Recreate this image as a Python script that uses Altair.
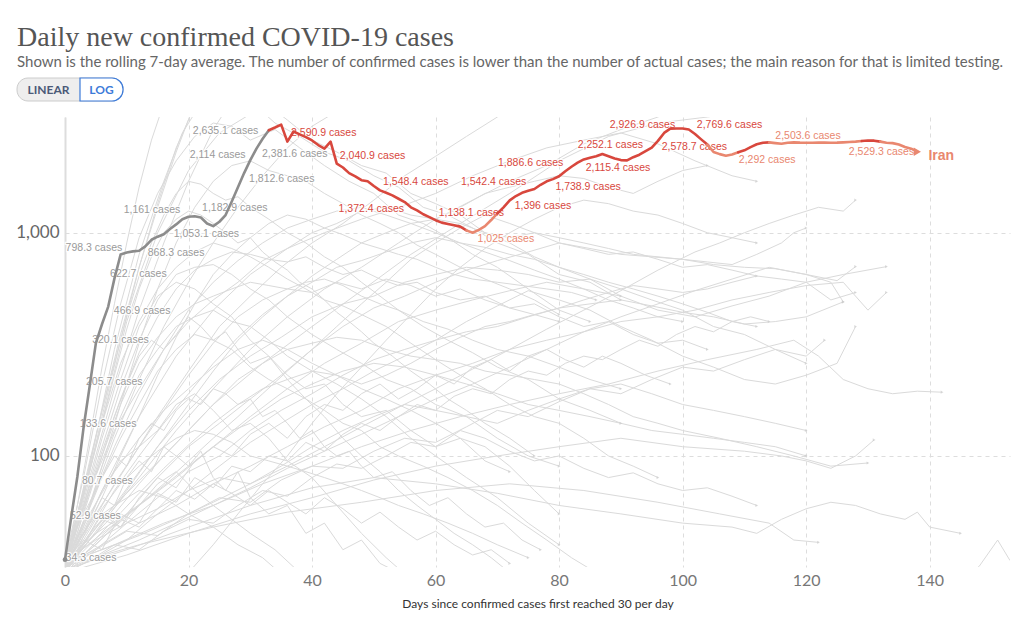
import altair as alt
import pandas as pd

# ---------------- Iran (highlighted) ----------------
iran_days = list(range(0, 139))
iran_vals = [
    34.3, 52.9, 80.7, 133.6, 205.7, 320.1, 390, 466.9, 622.7, 798.3,
    815, 825, 830, 868.3, 930, 960, 985, 1040, 1090, 1150,
    1180, 1185, 1170, 1100, 1070, 1120, 1200, 1380, 1600, 1850,
    2114, 2381.6, 2635.1, 2880, 2960, 3050, 2560, 2840, 2760, 2680,
    2590.9, 2470, 2380, 2560, 2040.9, 1960, 1850, 1790, 1720, 1700,
    1620, 1548.4, 1510, 1470, 1420, 1372.4, 1300, 1260, 1210, 1175,
    1138.1, 1110, 1095, 1080, 1065, 1025, 1000, 1030, 1070, 1140,
    1220, 1300, 1396, 1460, 1510, 1542.4, 1570, 1640, 1700, 1738.9,
    1790, 1886.6, 1976, 2060, 2130, 2169, 2200, 2252.1, 2200, 2150,
    2115.4, 2110, 2180, 2237, 2320, 2404, 2578.7, 2800, 2926.9, 2930,
    2930, 2900, 2769.6, 2620, 2483, 2300, 2250, 2214, 2240, 2292,
    2340, 2420, 2490, 2530, 2540, 2520, 2503.6, 2530, 2540, 2533,
    2530, 2530, 2533, 2533, 2530, 2533, 2540, 2550, 2560, 2575,
    2590, 2585, 2560, 2529.3, 2520, 2483, 2420, 2380, 2307,
]
seg_breaks = [0, 33, 65, 70, 104, 109, 114, 129, 132, 138]
seg_colors = ["#8c8c8c", "#d8473d", "#e9876f", "#d8473d", "#e9876f",
              "#d8473d", "#e9876f", "#d8473d", "#e9876f"]

# labels next to the Iran line (text, day, value, colour group)
lab_text = ["2,635.1 cases", "2,114 cases", "2,381.6 cases", "1,812.6 cases",
            "1,161 cases", "1,182.9 cases", "1,053.1 cases", "798.3 cases",
            "868.3 cases", "622.7 cases", "466.9 cases", "320.1 cases",
            "205.7 cases", "133.6 cases", "80.7 cases", "52.9 cases", "34.3 cases",
            "2,590.9 cases", "2,040.9 cases", "1,548.4 cases", "1,372.4 cases",
            "1,138.1 cases", "1,025 cases", "1,542.4 cases", "1,886.6 cases",
            "1,396 cases", "1,738.9 cases", "2,252.1 cases", "2,115.4 cases",
            "2,926.9 cases", "2,769.6 cases", "2,578.7 cases", "2,292 cases",
            "2,503.6 cases", "2,529.3 cases"]
lab_day = [20.7, 20.2, 31.9, 29.8, 9.5, 22.2, 17.6, 0.1, 13.4, 7.3, 7.9, 4.4,
           3.4, 2.4, 2.75, 0.8, 0.1,
           36.6, 44.5, 51.5, 44.3, 60.5, 66.8, 64.1, 70.1, 72.8, 79.4, 83.0,
           84.3, 88.2, 102.3, 96.6, 109.1, 115.0, 126.9]
lab_val = [2866, 2240, 2261, 1745, 1268, 1294, 990, 857, 814, 655, 447, 331,
           215, 139, 77.2, 53.8, 34.9,
           2806, 2215, 1693, 1281, 1229, 940, 1693, 2060, 1321, 1607, 2484,
           1955, 3048, 3048, 2432, 2123, 2723, 2307]
lab_group = ["g"] * 17 + ["r"] * 5 + ["s"] + ["r"] * 9 + ["s"] * 3

# ---------------- other countries (grey) ----------------
bg01 = [(0,31),(2,60),(4,120),(6,250),(8,480),(10,900),(12,1600),(14,2600),(16,3800)]
bg02 = [(0,33),(3,70),(6,160),(9,350),(12,700),(15,1300),(18,2300),(21,3800)]
bg03 = [(0,30),(4,80),(8,200),(12,450),(16,900),(20,1700),(24,2900),(27,3900),(32,3900),
        (36,3200),(40,2600),(44,2300),(48,2000),(52,1850),(56,1500),(60,1350),(64,1200),
        (68,1000),(72,900),(76,780),(80,700),(85,620),(90,520)]
bg04 = [(0,34),(3,80),(6,210),(9,480),(12,950),(15,1500),(18,2100),(21,2700),(24,3100),
        (27,3000),(30,2600),(34,2900),(38,2400),(42,2000),(46,1700),(50,1500),(54,1200),
        (58,1100),(62,950),(66,800),(70,700),(75,560),(80,450),(85,400)]
bg05 = [(0,32),(5,110),(10,400),(15,1000),(20,1900),(25,2800),(30,3400)]
bg06 = [(0,31),(4,90),(8,300),(12,800),(16,1700),(19,2800),(22,3800)]
bg07 = [(0,30),(3,65),(6,150),(9,330),(12,700),(15,1350),(18,2400),(21,3700),(30,3900),
        (34,3100),(38,2700),(42,2300),(46,2100),(50,1800),(54,1600),(58,1300),(62,1200),
        (66,1050),(70,900),(75,800),(80,650),(85,600),(90,500)]
bg08 = [(0,31),(4,60),(8,120),(12,220),(16,380),(20,600),(24,900),(28,1300),(32,1800),
        (36,2400),(40,3000),(44,3500)]
bg09 = [(0,33),(5,55),(10,90),(15,150),(20,240),(25,380),(30,520),(35,700),(40,900),
        (45,1100),(50,1400),(55,1800),(60,2200),(65,2700),(70,3300),(74,3900)]
bg10 = [(0,30),(6,50),(12,80),(18,130),(24,200),(30,300),(36,420),(42,560),(48,700),
        (54,900),(60,1150),(66,1400),(72,1700),(78,2000),(84,2500),(90,2900),(96,3300),(100,3700)]
bg11 = [(0,32),(8,60),(16,100),(24,170),(32,260),(40,380),(48,550),(56,800),(64,1100),
        (72,1500),(80,2100),(88,2700),(96,3100),(104,3300),(110,3500),(118,3450)]
bg12 = [(0,31),(6,70),(12,150),(18,280),(24,450),(30,650),(36,850),(42,1000),(48,1150),
        (54,1300),(60,1500),(66,1800),(72,2100),(78,2400),(84,2600),(90,2800),(96,2500),
        (102,2100),(108,1800),(112,1700)]
bg13 = [(0,34),(4,70),(8,130),(12,200),(16,300),(20,400),(24,500),(28,600),(32,750),
        (36,850),(40,1000),(44,1100),(48,1250),(52,1300),(56,1200),(60,1150),(64,1300),
        (68,1500),(72,1600),(76,1700),(80,1800),(84,1750),(88,1600),(92,1500),(96,1700),
        (100,1900),(104,2000)]
bg14 = [(0,32),(3,60),(6,110),(9,200),(12,330),(15,500),(18,650),(21,700),(24,720),
        (27,650),(30,560),(33,500),(36,420),(40,350),(44,300),(48,260),(52,220),(56,200),
        (60,170),(65,150),(70,120),(75,100),(80,90)]
bg15 = [(0,30),(3,50),(6,90),(9,150),(12,230),(15,300),(18,380),(21,420),(24,450),
        (27,400),(30,380),(33,330),(36,280),(40,240),(44,210),(48,180),(52,150),(56,120),
        (60,100),(65,80),(70,65),(75,50),(80,40)]
bg16 = [(0,33),(4,55),(8,85),(12,120),(16,160),(20,200),(24,250),(28,300),(32,330),
        (36,300),(40,260),(44,230),(48,200),(52,180),(56,160),(60,140),(64,120),(68,110),
        (72,90),(76,70),(80,55)]
bg17 = [(0,31),(3,45),(6,70),(9,95),(12,110),(15,130),(18,170),(21,190),(24,160),
        (27,130),(30,140),(33,120),(36,95),(40,80),(44,60),(48,45),(52,35),(56,28)]
bg18 = [(0,34),(4,50),(8,60),(12,70),(16,65),(20,55),(24,48),(28,40),(32,35),(36,28)]
bg19 = [(0,30),(3,40),(6,55),(9,48),(12,60),(15,75),(18,85),(21,70),(24,60),(27,52),
        (30,45),(34,38),(38,30)]
bg20 = [(0,32),(5,45),(10,70),(15,110),(20,160),(25,220),(30,280),(35,340),(40,420),
        (45,480),(50,520),(55,600),(60,650),(65,700),(70,680),(75,650),(80,600),(85,620),
        (90,560),(95,500),(100,450),(105,380),(110,350),(115,300),(120,260)]
bg21 = [(0,31),(5,40),(10,55),(15,80),(20,110),(25,140),(30,180),(35,230),(40,300),
        (45,380),(50,460),(55,520),(60,600),(65,680),(70,750),(75,820),(80,900),(85,850),
        (90,800),(95,780),(100,760),(105,720),(110,700),(115,690),(120,650),(125,610),(128,705)]
bg22 = [(0,33),(6,45),(12,60),(18,80),(24,110),(30,150),(36,200),(42,260),(48,320),
        (54,400),(60,450),(66,500),(72,550),(78,600),(84,560),(90,520),(96,450),(102,420),
        (108,470),(114,520),(120,600),(126,650),(133,705)]
bg23 = [(0,30),(5,38),(10,50),(15,65),(20,85),(25,100),(30,130),(35,160),(40,190),
        (45,230),(50,270),(55,300),(60,330),(65,360),(70,380),(75,420),(80,460),(85,480),
        (90,500),(95,470),(100,440),(105,420),(110,390),(115,400),(120,420),(126,490)]
bg24 = [(0,32),(6,40),(12,50),(18,60),(24,75),(30,90),(36,110),(42,135),(48,160),
        (54,200),(60,230),(66,260),(72,300),(78,330),(84,360),(90,400),(96,420),(102,450),
        (108,500),(114,540),(120,580),(126,600),(130,450),(133,540)]
bg25 = [(0,31),(4,42),(8,55),(12,75),(16,100),(20,130),(24,170),(28,220),(32,260),
        (36,300),(40,320),(44,340),(48,330),(52,300),(56,280),(60,270),(64,260),(68,240),
        (72,230),(76,220),(80,210),(84,190),(88,170),(92,150),(96,140),(100,130),(106,120),
        (112,110),(118,100),(124,90),(130,93)]
bg26 = [(0,30),(5,35),(10,42),(15,55),(20,70),(25,90),(30,115),(35,140),(40,170),
        (45,200),(50,240),(55,280),(60,330),(65,400),(70,470),(75,550),(80,500),(85,450),
        (90,380),(95,330),(100,280),(105,250),(110,220),(115,210),(120,230),(125,260),(128,380)]
bg27 = [(0,33),(8,40),(16,50),(24,60),(32,75),(40,90),(48,110),(56,130),(64,150),
        (72,170),(80,190),(88,210),(96,240),(104,270),(112,300),(118,330),(122,280),
        (126,220),(130,200),(134,190),(138,195),(142,193)]
bg28 = [(0,30),(10,36),(20,45),(30,55),(40,65),(50,78),(60,90),(70,100),(80,110),
        (90,120),(100,110),(110,105),(116,100),(120,95),(124,88),(128,100),(131,118)]
bg29 = [(0,31),(10,38),(20,48),(30,60),(40,72),(50,80),(60,75),(70,68),(80,60),
        (90,55),(100,50),(108,48),(112,45),(116,52),(120,58),(124,62),(128,60),(132,55),
        (136,52),(138,56),(140,48),(145,45)]
bg30 = [(0,32),(12,40),(24,48),(36,56),(48,62),(60,70),(72,75),(84,70),(96,62),
        (106,55),(114,50),(118,42),(122,41)]
bg31 = [(145,28),(148,32),(151,42),(153,34),(155,35)]
bg32 = [(0,34),(3,70),(6,140),(9,260),(12,400),(15,560),(18,700),(21,820),(24,900),
        (27,850),(30,780),(33,700),(36,620),(39,560),(42,500),(45,470),(48,430),(52,380),
        (56,320),(60,270),(64,230),(68,200),(72,170),(76,150),(80,140),(84,120),(88,100),
        (92,90),(96,80)]
bg33 = [(0,31),(3,55),(6,100),(9,170),(12,260),(15,340),(18,420),(21,480),(24,520),
        (27,560),(30,600),(33,580),(36,560),(39,600),(42,620),(45,580),(48,520),(51,480),
        (54,450),(58,400),(62,370),(66,330),(70,300),(75,280),(80,250),(85,220),(90,200)]
bg34 = [(0,30),(4,45),(8,70),(12,100),(16,140),(20,190),(24,260),(28,340),(32,430),
        (36,520),(40,600),(44,700),(48,750),(52,820),(56,900),(60,950),(64,900),(68,860),
        (72,800),(76,760),(80,700),(84,650),(88,600),(92,560),(96,520),(100,480),(104,440),
        (108,400),(112,380)]
bg35 = [(0,33),(3,50),(6,80),(9,120),(12,170),(15,240),(18,300),(21,350),(24,330),
        (27,300),(30,250),(33,220),(36,200),(39,180),(42,160),(45,140),(48,130),(51,110),
        (54,100),(58,90),(62,80),(66,70),(70,60),(74,50),(78,42),(82,35),(86,30)]
bg36 = [(0,32),(4,38),(8,48),(12,60),(16,75),(20,95),(24,120),(28,150),(32,190),
        (36,240),(40,300),(44,380),(48,480),(52,600),(56,760),(60,900),(64,1050),(68,1200),
        (72,1100),(76,1000),(80,950),(84,900),(88,850),(92,800),(96,780),(100,760),(104,740),
        (108,720),(112,800),(116,900),(118,1000),(120,1050)]
bg37 = [(0,31),(6,36),(12,42),(18,50),(24,60),(30,72),(36,88),(42,105),(48,125),
        (54,150),(60,180),(66,210),(72,250),(78,300),(84,360),(90,420),(96,480),(102,550),
        (108,620),(114,700),(120,650),(124,600),(126,490)]
bg38 = [(0,30),(3,42),(6,58),(9,75),(12,90),(15,105),(18,120),(21,130),(24,125),
        (27,115),(30,100),(33,95),(36,90),(39,85),(42,80),(45,75),(48,70),(51,65),(54,60),
        (58,55),(62,50),(66,45),(70,40),(75,35)]
bg39 = [(0,34),(5,45),(10,55),(15,70),(20,90),(25,115),(30,145),(35,180),(40,210),
        (45,240),(50,260),(55,250),(60,230),(65,210),(70,190),(75,170),(80,160),(85,150),
        (90,140),(95,130),(100,125),(105,120),(110,115),(115,110),(120,100)]
bg40 = [(0,32),(4,60),(8,110),(12,190),(16,300),(20,450),(24,600),(28,750),(32,900),
        (36,1050),(40,1150),(44,1250),(48,1300),(52,1200),(56,1100),(60,1000),(64,900),
        (68,820),(72,750),(76,680),(80,620),(84,560),(88,500),(92,460),(96,420),(100,400)]
bg41 = [(0,30),(3,48),(6,90),(9,170),(12,320),(15,560),(18,900),(21,1300),(24,1700),
        (27,2000),(30,2100),(33,1900),(36,1800),(39,1700),(42,1500),(45,1350),(48,1200),
        (51,1100),(54,1000),(57,880),(60,800),(64,700),(68,620),(72,560),(76,500),(80,430)]
bg42 = [(0,33),(2,55),(4,95),(6,160),(8,260),(10,420),(12,640),(14,900),(16,1200),
        (18,1500),(20,1700),(22,1650),(24,1500),(26,1400),(28,1450),(30,1300),(33,1150),
        (36,1000),(39,900),(42,780),(45,700),(48,600),(51,520),(54,450),(58,380),(62,330),
        (66,290),(70,250),(75,220),(80,180),(85,160),(90,140)]
bg43 = [(0,32),(3,45),(6,65),(9,100),(12,150),(15,230),(18,340),(21,480),(24,650),
        (27,800),(30,950),(33,1100),(36,1200),(39,1150),(42,1050),(45,980),(48,900),
        (51,850),(54,800),(57,760),(60,700),(63,650),(66,620),(70,600),(74,580),(78,560),
        (82,540),(86,500)]
bg44 = [(0,31),(4,40),(8,52),(12,68),(16,88),(20,112),(24,140),(28,170),(32,200),
        (36,220),(40,240),(44,230),(48,210),(52,230),(56,260),(60,300),(64,340),(68,380),
        (72,400),(76,430),(80,460),(84,500),(88,540),(92,580),(96,560),(100,540),(104,560),
        (108,600),(112,640),(116,620),(120,600),(124,500),(128,540)]
bg45 = [(0,34),(5,42),(10,50),(15,58),(20,70),(25,80),(30,75),(35,90),(40,110),
        (45,130),(50,150),(55,170),(60,160),(65,150),(70,140),(75,160),(80,180),(85,200),
        (90,210),(95,190),(100,170),(105,160),(110,150),(115,140),(120,130)]
bg46 = [(0,31),(2,45),(4,70),(6,100),(8,150),(10,210),(12,280),(14,330),(16,300),(18,350),
        (20,420),(22,380),(24,330),(26,360),(28,300),(30,260),(33,280),(36,230),(39,200),
        (42,210),(45,170),(48,150),(52,160),(56,130),(60,110),(64,120),(68,95),(72,85)]
bg47 = [(0,33),(3,40),(6,52),(9,48),(12,65),(15,80),(18,72),(21,95),(24,110),(27,100),
        (30,125),(33,140),(36,120),(39,150),(42,170),(45,160),(48,190),(51,210),(54,180),
        (57,200),(60,230),(63,210),(66,250),(69,270),(72,240),(75,280),(78,300),(81,270),
        (84,250),(87,280),(90,260),(94,230),(98,210)]
bg48 = [(0,30),(2,38),(4,50),(6,65),(8,60),(10,80),(12,95),(14,85),(16,110),(18,100),
        (20,90),(22,105),(24,80),(26,70),(28,85),(30,65),(33,55),(36,60),(39,45),(42,50),
        (45,38),(48,42),(51,33),(54,30)]
bg49 = [(0,32),(4,48),(8,75),(12,110),(16,160),(20,230),(24,320),(28,420),(32,500),
        (36,560),(40,540),(44,600),(48,560),(52,620),(56,580),(60,520),(64,560),(68,500),
        (72,460),(76,480),(80,420),(84,380),(88,400),(92,350),(96,320),(100,330),(104,300)]
bg50 = [(0,34),(3,42),(6,38),(9,55),(12,50),(15,68),(18,62),(21,80),(24,72),(27,90),
        (30,85),(33,100),(36,95),(39,115),(42,105),(45,125),(48,140),(51,130),(54,150),
        (57,170),(60,160),(63,185),(66,200),(69,190),(72,220),(75,240),(78,230),(81,260),
        (84,280),(87,270),(90,300),(93,330),(96,310),(99,350),(102,380),(105,360),(108,400),
        (111,420),(114,400)]
bg51 = [(0,31),(3,60),(6,120),(9,220),(12,380),(15,520),(18,600),(21,560),(24,480),
        (27,420),(30,330),(33,280),(36,220),(39,180),(42,150),(45,120),(48,100),(51,85),
        (54,70),(57,60),(60,52),(63,45),(66,40),(69,35),(72,30)]
bg52 = [(0,33),(5,38),(10,46),(15,44),(20,55),(25,65),(30,62),(35,78),(40,90),(45,88),
        (50,105),(55,120),(60,115),(65,135),(70,160),(75,150),(80,175),(85,200),(90,190),
        (95,220),(100,250),(105,240),(110,270),(115,300),(120,280),(123,330)]
bg53 = [(0,30),(3,36),(6,44),(9,52),(12,48),(15,58),(18,70),(21,64),(24,75),(27,68),
        (30,60),(33,70),(36,62),(39,55),(42,65),(45,58),(48,50),(51,56),(54,48),(57,42),
        (60,46),(63,40),(66,36),(69,38),(72,33)]
bg54 = [(0,32),(2,52),(4,85),(6,140),(8,230),(10,370),(12,560),(14,780),(16,1000),
        (18,1150),(20,1250),(22,1200),(24,1100),(26,1000),(28,900),(30,950),(32,820),
        (34,740),(36,680),(38,600),(40,560),(42,500),(44,440),(46,400),(48,360),(50,320),
        (53,280),(56,240),(59,210),(62,180),(65,160),(68,140),(72,120),(76,100)]
bg55 = [(0,31),(4,45),(8,60),(12,85),(16,120),(20,170),(24,240),(28,330),(32,420),
        (36,520),(40,640),(44,760),(48,900),(52,1000),(56,1100),(60,1150),(64,1100),
        (68,1000),(72,950),(76,1000),(80,900),(84,850),(88,800),(92,820),(96,760),
        (100,700),(104,720),(108,680),(112,640)]
bg56 = [(0,33),(6,38),(12,44),(18,52),(24,62),(30,75),(36,90),(42,110),(48,135),
        (54,165),(60,200),(66,245),(72,300),(78,370),(84,450),(90,550),(96,680),(102,820),
        (106,900),(110,1000),(114,1100),(118,1200),(122,1300),(126,1250),(128,1400)]
bg57 = [(0,30),(4,34),(8,40),(12,38),(16,46),(20,52),(24,50),(28,60),(32,70),(36,66),
        (40,80),(44,92),(48,88),(52,100),(56,115),(60,110),(64,130),(68,120),(72,105),
        (76,95),(80,100),(84,88),(88,80),(92,84),(96,75),(100,70),(104,72),(108,66),(112,60)]
bg58 = [(20,30),(24,40),(28,55),(32,75),(36,100),(40,140),(44,190),(48,250),(52,330),
        (56,430),(60,560),(64,700),(68,850),(72,1000),(76,1150),(80,1300),(84,1400),
        (88,1350),(92,1250),(96,1200),(100,1100),(104,1000),(108,950),(112,900)]
bg59 = [(0,32),(3,58),(6,105),(9,180),(12,290),(15,420),(18,560),(21,680),(24,760),
        (27,820),(30,800),(33,760),(36,740),(39,780),(42,700),(45,650),(48,680),(51,620),
        (54,580),(57,600),(60,540),(64,500),(68,520),(72,460),(76,430),(80,400)]
bg60 = [(0,34),(2,48),(4,62),(6,80),(8,100),(10,90),(12,120),(14,140),(16,130),(18,160),
        (20,180),(22,170),(24,200),(26,190),(28,170),(30,180),(32,150),(34,160),(36,140),
        (38,120),(40,130),(42,110),(44,100),(46,105),(48,90),(50,80),(53,85),(56,70),
        (59,60),(62,65),(65,55),(68,48),(71,50),(74,42),(77,38)]

background = [bg01, bg02, bg03, bg04, bg05, bg06, bg07, bg08, bg09, bg10, bg11, bg12,
              bg13, bg14, bg15, bg16, bg17, bg18, bg19, bg20, bg21, bg22, bg23, bg24,
              bg25, bg26, bg27, bg28, bg29, bg30, bg31, bg32, bg33, bg34, bg35, bg36,
              bg37, bg38, bg39, bg40, bg41, bg42, bg43, bg44, bg45, bg46, bg47, bg48,
              bg49, bg50, bg51, bg52, bg53, bg54, bg55, bg56, bg57, bg58, bg59, bg60]

x_ticks = [0, 20, 40, 60, 80, 100, 120, 140]
y_ticks = [100, 1000]

# ---------------- build tables ----------------
rows = []
for i, s in enumerate(background):
    for d, v in s:
        rows.append({"series": i, "day": d, "value": v})
bg_df = pd.DataFrame(rows)
bg_end = bg_df.groupby("series").tail(1)

iran_rows = []
for k in range(len(seg_colors)):
    for d in range(seg_breaks[k], seg_breaks[k + 1] + 1):
        iran_rows.append({"seg": k, "day": iran_days[d], "value": iran_vals[d],
                          "color": seg_colors[k]})
iran_df = pd.DataFrame(iran_rows)
iran_start = pd.DataFrame({"day": [iran_days[0]], "value": [iran_vals[0]]})
iran_end = pd.DataFrame({"day": [iran_days[-1]], "value": [iran_vals[-1]]})

lab_df = pd.DataFrame({"text": lab_text, "day": lab_day, "value": lab_val, "grp": lab_group})
name_df = pd.DataFrame({"text": ["Iran"], "day": [139.8], "value": [2215]})

W, H = 945, 450
xs = alt.Scale(domain=[0, 153], nice=False, zero=False)
ys = alt.Scale(type="log", domain=[31.8, 3300], nice=False)

x_axis = alt.Axis(values=x_ticks, grid=True, gridDash=[4, 4], gridColor="#dddddd",
                  domain=False, ticks=False, labelFont="Lato", labelFontSize=16,
                  labelColor="#777777", labelPadding=5, labelFlush=False,
                  title="Days since confirmed cases first reached 30 per day",
                  titleFont="Lato", titleFontSize=12, titleFontWeight="normal",
                  titleColor="#333333", titlePadding=10)
y_axis = alt.Axis(values=y_ticks, format=",", grid=True, gridDash=[4, 4],
                  gridColor="#dddddd", domain=True, domainColor="#dddddd",
                  domainWidth=2, ticks=False, labelFont="Lato", labelFontSize=17,
                  labelColor="#666666", labelPadding=6, title=None)

X = alt.X("day:Q", scale=xs, axis=x_axis)
Y = alt.Y("value:Q", scale=ys, axis=y_axis)

bg_lines = alt.Chart(bg_df).mark_line(color="#dadada", strokeWidth=1, clip=True).encode(
    x=X, y=Y, detail="series:N", order="day:Q")
bg_arrows = alt.Chart(bg_end).mark_point(shape="triangle-right", size=10, filled=True,
                                         color="#cccccc", clip=True).encode(x=X, y=Y)

halo = alt.Chart(lab_df).mark_text(align="left", baseline="middle", font="Liberation Sans",
                                   fontSize=10.5, stroke="white", strokeWidth=2.5,
                                   fill="white", strokeOpacity=0.85).encode(
    x=X, y=Y, text="text:N")
labels = alt.Chart(lab_df).mark_text(align="left", baseline="middle", font="Liberation Sans",
                                     fontSize=10.5).encode(
    x=X, y=Y, text="text:N",
    color=alt.Color("grp:N", scale=alt.Scale(domain=["g", "r", "s"],
                                             range=["#9a9a9a", "#d8473d", "#e9876f"]),
                    legend=None))

iran_line = alt.Chart(iran_df).mark_line(strokeWidth=2.6, strokeJoin="round",
                                         strokeCap="round").encode(
    x=X, y=Y, detail="seg:N", order="day:Q",
    color=alt.Color("color:N", scale=None))
iran_dot = alt.Chart(iran_start).mark_point(filled=True, size=22, color="#8c8c8c",
                                            opacity=1).encode(x=X, y=Y)
iran_arrow = alt.Chart(iran_end).mark_point(shape="triangle-right", filled=True, size=70,
                                            color="#e9876f", opacity=1).encode(x=X, y=Y)
iran_name = alt.Chart(name_df).mark_text(align="left", baseline="middle",
                                         font="Liberation Sans", fontSize=14,
                                         fontWeight="bold", color="#e9876f").encode(
    x=X, y=Y, text="text:N")

# LINEAR / LOG toggle (decoration above the plot)
btn = pd.DataFrame({"k": [0]})
pill = alt.Chart(btn).mark_rect(color="#eeeeee", stroke="#cccccc", strokeWidth=1,
                                cornerRadius=11).encode(
    x=alt.value(-48), x2=alt.value(58), y=alt.value(-39), y2=alt.value(-16))
logbtn = alt.Chart(btn).mark_rect(color="#ffffff", stroke="#3d7bd9", strokeWidth=1.2,
                                  cornerRadiusTopRight=11, cornerRadiusBottomRight=11).encode(
    x=alt.value(15), x2=alt.value(58), y=alt.value(-39), y2=alt.value(-16))
lin_txt = alt.Chart(btn).mark_text(font="Lato", fontSize=12, fontWeight="bold",
                                   color="#4b5a78", baseline="middle").encode(
    x=alt.value(-16.5), y=alt.value(-27.5), text=alt.value("LINEAR"))
log_txt = alt.Chart(btn).mark_text(font="Lato", fontSize=12, fontWeight="bold",
                                   color="#3d7bd9", baseline="middle").encode(
    x=alt.value(36.5), y=alt.value(-27.5), text=alt.value("LOG"))

chart = alt.layer(
    bg_lines, bg_arrows, halo, labels, iran_line, iran_dot, iran_arrow, iran_name,
    pill, logbtn, lin_txt, log_txt
).properties(
    width=W, height=H,
    background="white",
    title=alt.TitleParams(
        text="Daily new confirmed COVID-19 cases",
        subtitle="Shown is the rolling 7-day average. The number of confirmed cases is lower than the number of actual cases; the main reason for that is limited testing.",
        anchor="start", frame="group", dx=-48, offset=7,
        font="Liberation Serif", fontSize=28, fontWeight="normal", color="#555555",
        subtitleFont="Lato", subtitleFontSize=15, subtitleColor="#666666",
        subtitlePadding=3),
    autosize=alt.AutoSizeParams(type="none"),
    padding={"left": 65, "top": 117, "right": 14, "bottom": 58},
).configure_view(strokeWidth=0, stroke=None)

chart.save("out.html", embed_options={"renderer": "svg", "actions": False})
